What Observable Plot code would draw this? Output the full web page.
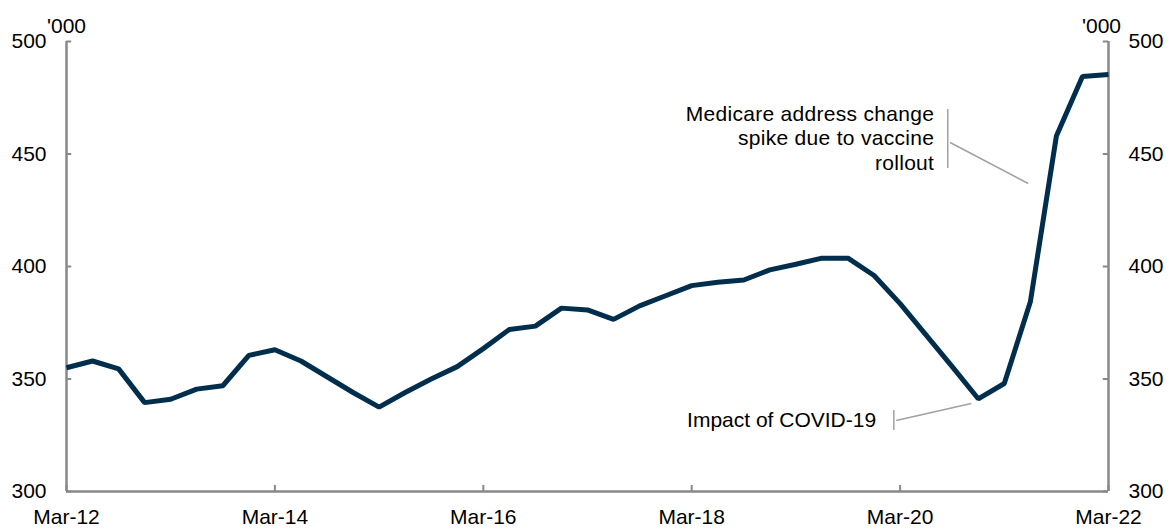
<!DOCTYPE html>
<html>
<head>
<meta charset="utf-8">
<script src="https://cdn.jsdelivr.net/npm/d3@7"></script>
<script src="https://cdn.jsdelivr.net/npm/@observablehq/plot@0.6"></script>
<style>
  html, body { margin: 0; padding: 0; background: #ffffff; }
  #chart { width: 1172px; height: 530px; }
  svg { font-family: "Liberation Sans", Arial, sans-serif; }
  .ann text { letter-spacing: 0.3px; }
</style>
</head>
<body>
<div id="chart"></div>
<script>
// Quarterly labels (Mar-12 .. Mar-22)
const quarters = [
  "Mar-12","Jun-12","Sep-12","Dec-12","Mar-13","Jun-13","Sep-13","Dec-13",
  "Mar-14","Jun-14","Sep-14","Dec-14","Mar-15","Jun-15","Sep-15","Dec-15",
  "Mar-16","Jun-16","Sep-16","Dec-16","Mar-17","Jun-17","Sep-17","Dec-17",
  "Mar-18","Jun-18","Sep-18","Dec-18","Mar-19","Jun-19","Sep-19","Dec-19",
  "Mar-20","Jun-20","Sep-20","Dec-20","Mar-21","Jun-21","Sep-21","Dec-21",
  "Mar-22"
];
// Values, '000
const values = [
  355, 358, 354.5, 339.5, 341, 345.5, 347, 360.5,
  363, 358, 351, 344, 337.5, 344, 350, 355.5,
  363.5, 372, 373.5, 381.5, 380.7, 376.5, 382.5, 387,
  391.5, 393, 394, 398.5, 401, 403.7, 403.7, 396,
  383.5, 369.5, 355.5, 341.2, 348, 384.3, 458, 484.4,
  485.3
];
const xTickIdx = [0, 8, 16, 24, 32, 40];
const xTickLabels = ["Mar-12", "Mar-14", "Mar-16", "Mar-18", "Mar-20", "Mar-22"];
const yTicks = [300, 350, 400, 450, 500];
const unitLabel = "'000";

// Annotations (in data units: quarter index, value)
const vaccineText = "Medicare address change\nspike due to vaccine\nrollout";
const vaccineTextPos = {x: 33.31, y: 457.3};
const vaccineBracket = {x: 33.83, y1: 443.6, y2: 469.8};
const vaccineLeader = {x1: 33.92, y1: 455.1, x2: 36.92, y2: 436.9};
const covidText = "Impact of COVID-19";
const covidTextPos = {x: 31.08, y: 331.8};
const covidBracket = {x: 31.76, y1: 327.1, y2: 336};
const covidLeader = {x1: 31.85, y1: 331.6, x2: 34.73, y2: 339.1};

const data = quarters.map((q, i) => ({i, q, v: values[i]}));
const axisColor = "#898989";
const annColor = "#a69f9f";
const lineColor = "#022e4d";
const fontSize = 21;
const annFont = 21;
const tickLenX = 0.2;   // inward tick length in quarters
const tickLenY = 2.7;   // inward tick length in value units

const chart = Plot.plot({
  width: 1172,
  height: 530,
  marginLeft: 66,
  marginRight: 64,
  marginTop: 41,
  marginBottom: 39,
  style: {fontFamily: "'Liberation Sans', Arial, sans-serif", fontSize: fontSize + "px", color: "#000", background: "#fff", overflow: "visible"},
  x: {domain: [0, 40]},
  y: {domain: [300, 500]},
  marks: [
    // Axes frame
    Plot.ruleX([0, 40], {y1: 300, y2: 500, stroke: axisColor, strokeWidth: 2.5}),
    Plot.ruleY([300], {x1: 0, x2: 40, stroke: axisColor, strokeWidth: 2.5}),
    // inward ticks
    Plot.ruleY(yTicks, {x1: 0, x2: tickLenX, stroke: axisColor, strokeWidth: 2}),
    Plot.ruleY(yTicks, {x1: 40 - tickLenX, x2: 40, stroke: axisColor, strokeWidth: 2}),
    Plot.ruleX(xTickIdx, {y1: 300, y2: 300 + tickLenY, stroke: axisColor, strokeWidth: 2}),
    // tick labels
    Plot.axisY(yTicks, {anchor: "left", tickSize: 0, tickPadding: 20, label: null, fontSize: fontSize}),
    Plot.axisY(yTicks, {anchor: "right", tickSize: 0, tickPadding: 20, label: null, fontSize: fontSize}),
    Plot.axisX(xTickIdx, {anchor: "bottom", tickSize: 0, tickPadding: 18, label: null, fontSize: fontSize,
      tickFormat: (d) => xTickLabels[xTickIdx.indexOf(d)]}),
    // unit labels
    Plot.text([unitLabel], {x: 0, y: 500, dy: -15, textAnchor: "middle", fontSize: fontSize, fill: "#000"}),
    Plot.text([unitLabel], {x: 40, y: 500, dx: -7, dy: -15, textAnchor: "middle", fontSize: fontSize, fill: "#000"}),
    // annotations
    Plot.text([vaccineText], {x: vaccineTextPos.x, y: vaccineTextPos.y, textAnchor: "end", lineAnchor: "middle", lineHeight: 1.17, fontSize: annFont, fill: "#000", className: "ann"}),
    Plot.ruleX([vaccineBracket.x], {y1: vaccineBracket.y1, y2: vaccineBracket.y2, stroke: annColor, strokeWidth: 1.5}),
    Plot.link([vaccineLeader], {x1: "x1", y1: "y1", x2: "x2", y2: "y2", stroke: annColor, strokeWidth: 1.5}),
    Plot.text([covidText], {x: covidTextPos.x, y: covidTextPos.y, textAnchor: "end", lineAnchor: "middle", fontSize: annFont, fill: "#000"}),
    Plot.ruleX([covidBracket.x], {y1: covidBracket.y1, y2: covidBracket.y2, stroke: annColor, strokeWidth: 1.5}),
    Plot.link([covidLeader], {x1: "x1", y1: "y1", x2: "x2", y2: "y2", stroke: annColor, strokeWidth: 1.5}),
    // series
    Plot.line(data, {x: "i", y: "v", stroke: lineColor, strokeWidth: 5, strokeLinejoin: "miter", strokeLinecap: "butt"})
  ]
});
document.getElementById("chart").appendChild(chart);
</script>
</body>
</html>
